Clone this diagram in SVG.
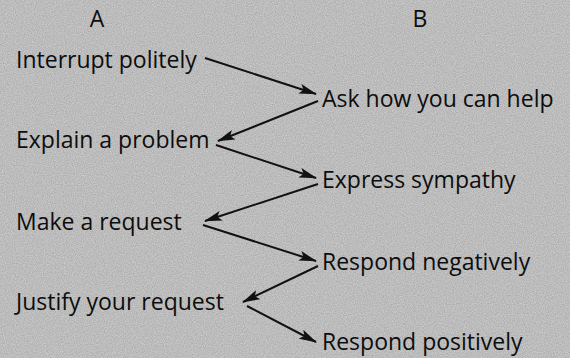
<svg xmlns="http://www.w3.org/2000/svg" width="570" height="358" viewBox="0 0 570 358">
<defs>
<style>
.t{font-family:"Open Sans","DejaVu Sans",sans-serif;font-size:23px;fill:#0d0d0d}
.h{font-family:"Open Sans","DejaVu Sans",sans-serif;font-size:23px;fill:#0d0d0d;text-anchor:middle}
.c{stroke:#111;stroke-width:2;fill:none;marker-end:url(#ah)}
</style>
<marker id="ah" markerUnits="userSpaceOnUse" markerWidth="18" markerHeight="10" viewBox="0 0 18 10" refX="17" refY="5" orient="auto">
<path d="M0,0 L18,5 L0,10 L4,5 Z" fill="#111"/>
</marker>
<filter id="noise" x="0" y="0" width="100%" height="100%">
<feTurbulence type="fractalNoise" baseFrequency="0.9" numOctaves="2" seed="3" result="n"/>
<feColorMatrix type="matrix" values="0 0 0 0 0  0 0 0 0 0  0 0 0 0 0  0 0 0 0.25 -0.05"/>
</filter>
</defs>
<rect width="570" height="358" fill="#cbcbcb"/>
<rect width="570" height="358" filter="url(#noise)"/>
<g id="headA"><text class="h" x="97" y="27">A</text></g>
<g id="headB"><text class="h" x="420" y="27">B</text></g>
<g id="a1"><text class="t" x="16" y="68">Interrupt politely</text></g>
<g id="b1"><text class="t" x="322" y="107">Ask how you can help</text></g>
<g id="a2"><text class="t" x="16" y="148">Explain a problem</text></g>
<g id="b2"><text class="t" x="322" y="188">Express sympathy</text></g>
<g id="a3"><text class="t" x="16" y="230">Make a request</text></g>
<g id="b3"><text class="t" x="322" y="270">Respond negatively</text></g>
<g id="a4"><text class="t" x="16" y="310">Justify your request</text></g>
<g id="b4"><text class="t" x="322" y="350">Respond positively</text></g>
<g id="connectors">
<line class="c" x1="205" y1="58" x2="316" y2="94"/>
<line class="c" x1="318" y1="101" x2="218" y2="141"/>
<line class="c" x1="216" y1="145" x2="316" y2="178"/>
<line class="c" x1="318" y1="184" x2="205" y2="221"/>
<line class="c" x1="203" y1="225" x2="316" y2="261"/>
<line class="c" x1="318" y1="266" x2="243" y2="302"/>
<line class="c" x1="247" y1="306" x2="316" y2="342"/>
</g>
</svg>
